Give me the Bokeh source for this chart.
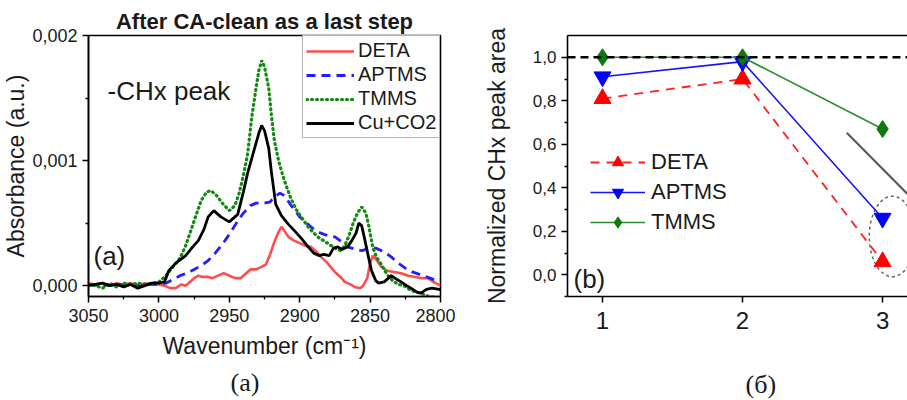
from bokeh.plotting import figure
from bokeh.layouts import row
from bokeh.models import (Range1d, FixedTicker, CustomJSTickFormatter, Legend, LegendItem,
                          Label, Span, LinearAxis, Title)
from bokeh.embed import file_html
from bokeh.resources import INLINE

# ---------------- data: panel (a) spectra ----------------
deta_wn = [3050, 3045, 3040, 3035, 3030, 3025, 3020, 3015, 3010, 3005, 3000, 2996, 2992, 2988, 2984,
           2981, 2978, 2975, 2972, 2969, 2965, 2962, 2958, 2954, 2950, 2946, 2942, 2938, 2935, 2931,
           2927, 2924, 2921, 2918, 2915, 2913, 2911, 2908, 2904, 2900, 2896, 2892, 2888, 2885, 2881,
           2878, 2875, 2871, 2868, 2864, 2861, 2857, 2855, 2852, 2850, 2848, 2845, 2842, 2838, 2833,
           2828, 2823, 2818, 2813, 2809, 2805, 2800]
deta_abs = [0.00002, 0.00001, 0.00002, 0.00000, 0.00002, 0.00001, 0.00002, 0.00000, 0.00002, 0.00001,
            0.00001, 0.00000, -0.00002, -0.00002, 0.00001, 0.00000, 0.00003, 0.00006, 0.00008, 0.00007,
            0.00007, 0.00006, 0.00008, 0.00010, 0.00008, 0.00006, 0.00006, 0.00010, 0.00013, 0.00013,
            0.00015, 0.00017, 0.00025, 0.00035, 0.00043, 0.00047, 0.00044, 0.00039, 0.00036, 0.00034,
            0.00032, 0.00031, 0.00027, 0.00023, 0.00019, 0.00015, 0.00011, 0.00007, 0.00003, 0.00001,
            -0.00001, -0.00002, 0.00000, 0.00006, 0.00018, 0.00024, 0.00020, 0.00015, 0.00012, 0.00011,
            0.00010, 0.00008, 0.00007, 0.00006, 0.00006, 0.00003, 0.00000]

aptms_wn = [3050, 3040, 3030, 3020, 3010, 3000, 2995, 2990, 2985, 2980, 2975, 2970, 2965, 2960, 2955,
            2950, 2945, 2940, 2935, 2931, 2925, 2921, 2918, 2914, 2911, 2906, 2900, 2895, 2890, 2885,
            2880, 2875, 2870, 2866, 2860, 2856, 2850, 2846, 2840, 2835, 2830, 2825, 2820, 2815, 2810,
            2805, 2800]
aptms_abs = [0.00001, 0.00000, 0.00001, 0.00000, 0.00001, 0.00001, 0.00002, 0.00005, 0.00008, 0.00010,
             0.00013, 0.00016, 0.00020, 0.00026, 0.00033, 0.00041, 0.00050, 0.00058, 0.00064, 0.00066,
             0.00066, 0.00067, 0.00071, 0.00074, 0.00072, 0.00064, 0.00055, 0.00050, 0.00045, 0.00042,
             0.00040, 0.00039, 0.00035, 0.00031, 0.00029, 0.00028, 0.00030, 0.00030, 0.00027, 0.00023,
             0.00018, 0.00014, 0.00011, 0.00009, 0.00007, 0.00005, 0.00004]

tmms_wn = [3050, 3045, 3040, 3035, 3030, 3025, 3020, 3015, 3010, 3005, 3000, 2995, 2990, 2985, 2981,
           2977, 2974, 2970, 2966, 2963, 2959, 2955, 2950, 2946, 2943, 2940, 2937, 2934, 2931, 2929,
           2927, 2925, 2922, 2920, 2918, 2915, 2912, 2909, 2906, 2902, 2899, 2894, 2890, 2886, 2883,
           2879, 2875, 2871, 2868, 2865, 2862, 2859, 2856, 2853, 2851, 2848, 2845, 2842, 2838, 2834,
           2830, 2826, 2822, 2818, 2814, 2810, 2806, 2800]
tmms_abs = [0.00001, 0.00000, -0.00002, 0.00002, -0.00001, 0.00002, 0.00001, 0.00002, 0.00001, 0.00002,
            0.00003, 0.00008, 0.00015, 0.00022, 0.00032, 0.00045, 0.00055, 0.00068, 0.00075, 0.00076,
            0.00072, 0.00066, 0.00060, 0.00064, 0.00074, 0.00088, 0.00105, 0.00135, 0.00158, 0.00172,
            0.00180, 0.00175, 0.00158, 0.00135, 0.00116, 0.00100, 0.00088, 0.00078, 0.00069, 0.00060,
            0.00055, 0.00047, 0.00042, 0.00038, 0.00036, 0.00033, 0.00030, 0.00028, 0.00032, 0.00040,
            0.00050, 0.00058, 0.00063, 0.00058, 0.00048, 0.00030, 0.00022, 0.00017, 0.00009, 0.00004,
            0.00001, 0.00000, -0.00003, -0.00005, -0.00006, -0.00008, -0.00009, -0.00010]

cu_wn = [3050, 3045, 3040, 3035, 3030, 3025, 3020, 3015, 3010, 3005, 3000, 2996, 2993, 2988, 2981,
         2976, 2972, 2968, 2965, 2961, 2956, 2950, 2944, 2940, 2937, 2932, 2929, 2927, 2925, 2922,
         2920, 2917, 2913, 2908, 2903, 2899, 2894, 2890, 2886, 2883, 2879, 2876, 2873, 2870, 2866,
         2863, 2860, 2858, 2856, 2854, 2851, 2849, 2846, 2844, 2840, 2835, 2831, 2828, 2824, 2821,
         2817, 2814, 2810, 2806, 2801, 2800]
cu_abs = [0.00000, 0.00001, 0.00002, 0.00000, 0.00001, -0.00001, 0.00001, -0.00002, 0.00000, 0.00002,
          0.00002, 0.00003, 0.00012, 0.00018, 0.00024, 0.00031, 0.00036, 0.00045, 0.00055, 0.00060,
          0.00055, 0.00051, 0.00057, 0.00075, 0.00090, 0.00110, 0.00122, 0.00128, 0.00124, 0.00110,
          0.00090, 0.00065, 0.00056, 0.00049, 0.00043, 0.00038, 0.00031, 0.00026, 0.00024, 0.00025,
          0.00024, 0.00030, 0.00031, 0.00029, 0.00031, 0.00036, 0.00042, 0.00050, 0.00048, 0.00038,
          0.00022, 0.00012, 0.00004, 0.00002, 0.00003, 0.00008, 0.00005, 0.00003, 0.00000, -0.00002,
          -0.00005, -0.00006, -0.00003, -0.00002, -0.00003, -0.00003]

wn_ticks = [3050, 3000, 2950, 2900, 2850, 2800]
abs_ticks = [0.0, 0.001, 0.002]

# ---------------- data: panel (b) ----------------
steps = [1, 2, 3]
deta_norm = [0.81, 0.90, 0.06]
aptms_norm = [0.91, 0.98, 0.26]
tmms_norm = [1.00, 1.00, 0.67]
ref_level = 1.0
norm_ticks = [0.0, 0.2, 0.4, 0.6, 0.8, 1.0]
arrow_x = [2.744, 3.18]
arrow_y = [0.653, 0.37]
ellipse_center = (3.07, 0.176)
ellipse_size = (0.33, 0.37)

FONT = "Liberation Sans"
TXT = "#1a1a1a"


def style_axis(ax, tick_size, label_size):
    ax.axis_line_color = "black"
    ax.axis_line_width = 1.6
    ax.major_tick_line_color = "black"
    ax.major_tick_line_width = 1.5
    ax.minor_tick_line_color = "black"
    ax.minor_tick_line_width = 1.3
    ax.major_tick_in = 0
    ax.major_tick_out = 6
    ax.minor_tick_in = 0
    ax.minor_tick_out = 3
    ax.major_label_text_font = FONT
    ax.major_label_text_font_size = tick_size
    ax.major_label_text_color = TXT
    ax.axis_label_text_font = FONT
    ax.axis_label_text_font_size = label_size
    ax.axis_label_text_font_style = "normal"
    ax.axis_label_text_color = TXT


# ---------------- panel (a) ----------------
p1 = figure(width=455, height=400, output_backend="svg", toolbar_location=None,
            x_range=Range1d(3050, 2800), y_range=Range1d(-0.0000866, 0.002),
            min_border_left=88, min_border_right=15, min_border_top=33, min_border_bottom=102)
p1.title.text = "After CA-clean as a last step"
p1.title.align = "center"
p1.title.text_font = FONT
p1.title.text_font_size = "22px"
p1.title.text_font_style = "bold"
p1.title.text_color = TXT
p1.title.standoff = 4
p1.xgrid.visible = False
p1.ygrid.visible = False
p1.outline_line_color = "black"
p1.outline_line_width = 1.6
p1.outline_line_alpha = 1.0

p1.xaxis.ticker = FixedTicker(ticks=wn_ticks, minor_ticks=[3025, 2975, 2925, 2875, 2825])
p1.yaxis.ticker = FixedTicker(ticks=abs_ticks, minor_ticks=[0.0005, 0.0015])
p1.yaxis.formatter = CustomJSTickFormatter(code="return tick.toFixed(3).replace('.', ',');")
p1.xaxis.axis_label = "Wavenumber (cm\u207b\u00b9)"
p1.yaxis.axis_label = "Absorbance (a.u.)"
style_axis(p1.xaxis[0], "18px", "23px")
style_axis(p1.yaxis[0], "18px", "23px")
p1.xaxis.major_label_standoff = 6
p1.xaxis.axis_label_standoff = 8
p1.yaxis.major_label_standoff = 5
p1.yaxis.axis_label_standoff = 0

r_deta = p1.line(deta_wn, deta_abs, line_color="#ff4d4d", line_width=2.6)
r_aptms = p1.line(aptms_wn, aptms_abs, line_color="#1f1fff", line_width=2.8, line_dash="9 6")
r_tmms = p1.line(tmms_wn, tmms_abs, line_color="#128a12", line_width=3.2, line_dash="1 4",
                 line_cap="round")
r_cu = p1.line(cu_wn, cu_abs, line_color="black", line_width=2.8)

leg1 = Legend(items=[LegendItem(label="DETA", renderers=[r_deta]),
                     LegendItem(label="APTMS", renderers=[r_aptms]),
                     LegendItem(label="TMMS", renderers=[r_tmms]),
                     LegendItem(label="Cu+CO2", renderers=[r_cu])],
              location=(214, 158), orientation="vertical",
              label_text_font=FONT, label_text_font_size="20px", label_text_color=TXT,
              glyph_width=48, glyph_height=20, label_height=20, spacing=1, padding=3,
              label_standoff=4, margin=0,
              border_line_color="#666666", border_line_width=1.4,
              background_fill_color="white", background_fill_alpha=1.0)
p1.add_layout(leg1)

p1.add_layout(Label(x=19, y=206, x_units="screen", y_units="screen", text="-CHx peak",
                    text_font=FONT, text_font_size="26px", text_color=TXT,
                    text_align="left", text_baseline="middle"))
p1.add_layout(Label(x=5, y=41, x_units="screen", y_units="screen", text="(a)",
                    text_font=FONT, text_font_size="26px", text_color=TXT,
                    text_align="left", text_baseline="middle"))
p1.add_layout(Title(text="(a)", align="left", offset=142, standoff=8,
                    text_font="Liberation Serif", text_font_size="26px",
                    text_font_style="normal", text_color=TXT), "below")

# ---------------- panel (b) ----------------
p2 = figure(width=452, height=400, output_backend="svg", toolbar_location=None,
            x_range=Range1d(0.75, 3.178), y_range=Range1d(-0.1, 1.1),
            min_border_left=112, min_border_right=0, min_border_top=35, min_border_bottom=98)
p2.xgrid.visible = False
p2.ygrid.visible = False
p2.outline_line_color = None

p2.xaxis.ticker = FixedTicker(ticks=steps, minor_ticks=[])
p2.yaxis.ticker = FixedTicker(ticks=norm_ticks, minor_ticks=[-0.1, 0.1, 0.3, 0.5, 0.7, 0.9])
p2.yaxis.formatter = CustomJSTickFormatter(code="return tick.toFixed(1).replace('.', ',');")
p2.yaxis.axis_label = "Normalized CHx peak area"
# invisible spacer label so the caption below sits lower
p2.xaxis.axis_label = "\u00a0"
style_axis(p2.xaxis[0], "24px", "26px")
style_axis(p2.yaxis[0], "17px", "23px")
p2.xaxis.major_label_standoff = 9
p2.xaxis.axis_label_standoff = 3
p2.yaxis.major_label_standoff = 5
p2.yaxis.axis_label_standoff = 20

top_axis = LinearAxis(ticker=FixedTicker(ticks=[]), major_label_text_font_size="0px",
                      axis_line_color="black", axis_line_width=1.6,
                      major_tick_line_color=None, minor_tick_line_color=None)
p2.add_layout(top_axis, "above")

p2.add_layout(Span(location=ref_level, dimension="width", line_color="black",
                   line_width=2.6, line_dash="8 5"))

p2.line(arrow_x, arrow_y, line_color="#555555", line_width=2)
p2.ellipse(x=[ellipse_center[0]], y=[ellipse_center[1]], width=[ellipse_size[0]],
           height=[ellipse_size[1]], fill_color=None, line_color="#666666",
           line_width=1.5, line_dash="3 3")

l_deta = p2.line(steps, deta_norm, line_color="#ff2020", line_width=1.8, line_dash="9 7")
m_deta = p2.scatter(steps, deta_norm, marker="triangle", size=17, fill_color="#ff0000",
                    line_color="#ff0000")
l_aptms = p2.line(steps, aptms_norm, line_color="#1414ff", line_width=1.6)
m_aptms = p2.scatter(steps, aptms_norm, marker="inverted_triangle", size=17, fill_color="#0000ff",
                     line_color="#0000ff")
l_tmms = p2.line(steps, tmms_norm, line_color="#2a8f2a", line_width=1.6)
m_tmms = p2.scatter(steps, tmms_norm, marker="diamond", size=17,
                    fill_color="#0b7a0b", line_color="#0b7a0b")

leg2 = Legend(items=[LegendItem(label="DETA", renderers=[l_deta, m_deta]),
                     LegendItem(label="APTMS", renderers=[l_aptms, m_aptms]),
                     LegendItem(label="TMMS", renderers=[l_tmms, m_tmms])],
              location=(23, 60), orientation="vertical",
              label_text_font=FONT, label_text_font_size="22px", label_text_color=TXT,
              glyph_width=55, glyph_height=28, label_height=28, spacing=2, padding=0,
              label_standoff=6, margin=0,
              border_line_color=None, background_fill_alpha=0.0)
p2.add_layout(leg2)

p2.add_layout(Label(x=6, y=18, x_units="screen", y_units="screen", text="(b)",
                    text_font=FONT, text_font_size="26px", text_color=TXT,
                    text_align="left", text_baseline="middle"))
p2.add_layout(Title(text="(\u0431)", align="left", offset=178, standoff=0,
                    text_font="Liberation Serif", text_font_size="26px",
                    text_font_style="normal", text_color=TXT), "below")

layout = row(p1, p2)
open("out.html", "w").write(file_html(layout, INLINE))
